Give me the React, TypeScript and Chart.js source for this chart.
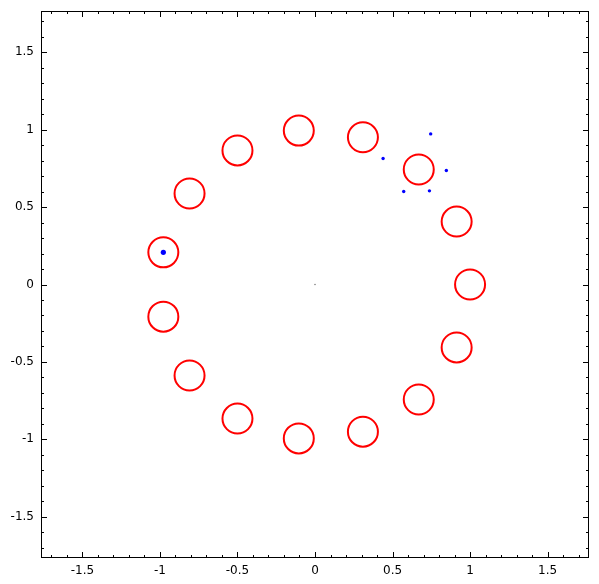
import React, { useEffect, useRef } from "react";
import { Chart, registerables } from "chart.js";
Chart.register(...registerables);

// 15 red hollow circles (x, y)
const rootX = [1, 0.9135, 0.6691, 0.309, -0.1045, -0.5, -0.809, -0.9781, -0.9781, -0.809, -0.5, -0.1045, 0.309, 0.6691, 0.9135];
const rootY = [0, 0.4067, 0.7431, 0.9511, 0.9945, 0.866, 0.5878, 0.2079, -0.2079, -0.5878, -0.866, -0.9945, -0.9511, -0.7431, -0.4067];
// small blue dots
const blueX = [0.746, 0.439, 0.847, 0.572, 0.738];
const blueY = [0.973, 0.814, 0.737, 0.601, 0.605];
// larger blue dot
const bigBlueX = [-0.978];
const bigBlueY = [0.208];
// tiny dot at origin
const originX = [0];
const originY = [0];

const tickValues = [-1.5, -1, -0.5, 0, 0.5, 1, 1.5];
const tickLabels = ["-1.5", "-1", "-0.5", "0", "0.5", "1", "1.5"];
const AXIS_MIN = -1.767;
const AXIS_MAX = 1.767;

const zip = (xs: number[], ys: number[]) => xs.map((x, i) => ({ x, y: ys[i] }));

const framePlugin = {
  id: "frameTicks",
  afterDraw(chart: any) {
    const { ctx, chartArea } = chart;
    const xs = chart.scales.x;
    const ys = chart.scales.y;
    const { left, right, top, bottom } = chartArea;
    ctx.save();
    ctx.strokeStyle = "#000";
    ctx.lineWidth = 1;
    ctx.beginPath();
    for (let i = -17; i <= 17; i++) {
      const v = i / 10;
      const len = i % 5 === 0 ? 6 : 3;
      const px = Math.round(xs.getPixelForValue(v)) + 0.5;
      const py = Math.round(ys.getPixelForValue(v)) + 0.5;
      ctx.moveTo(px, bottom);
      ctx.lineTo(px, bottom - len);
      ctx.moveTo(px, top);
      ctx.lineTo(px, top + len);
      ctx.moveTo(left, py);
      ctx.lineTo(left + len, py);
      ctx.moveTo(right, py);
      ctx.lineTo(right - len, py);
    }
    ctx.stroke();
    ctx.strokeRect(Math.round(left) + 0.5, Math.round(top) + 0.5, Math.round(right - left) - 1, Math.round(bottom - top) - 1);
    ctx.restore();
  },
};

const tickFont = { family: "DejaVu Sans", size: 12 };
const labelFor = (v: number) => {
  const idx = tickValues.findIndex((t) => Math.abs(t - v) < 1e-9);
  return idx >= 0 ? tickLabels[idx] : "";
};
const zeroPad = (s: any) => {
  s.paddingLeft = 0;
  s.paddingRight = 0;
  s.paddingTop = 0;
  s.paddingBottom = 0;
};

export default function App() {
  const ref = useRef<HTMLCanvasElement>(null);
  useEffect(() => {
    document.body.style.margin = "0";
    const chart = new Chart(ref.current as HTMLCanvasElement, {
      type: "scatter",
      data: {
        datasets: [
          {
            data: zip(rootX, rootY),
            pointRadius: 15,
            pointBorderWidth: 2,
            pointBorderColor: "#ff0000",
            pointBackgroundColor: "rgba(0,0,0,0)",
            showLine: false,
          },
          {
            data: zip(blueX, blueY),
            pointRadius: 1.7,
            pointBorderWidth: 0,
            pointBackgroundColor: "#0000ff",
            showLine: false,
          },
          {
            data: zip(bigBlueX, bigBlueY),
            pointRadius: 2.6,
            pointBorderWidth: 0,
            pointBackgroundColor: "#0000ff",
            showLine: false,
          },
          {
            data: zip(originX, originY),
            pointRadius: 0.7,
            pointBorderWidth: 0,
            pointBackgroundColor: "#666666",
            showLine: false,
          },
        ],
      },
      options: {
        responsive: false,
        animation: false,
        events: [],
        layout: { autoPadding: false, padding: { top: 11, right: 10, left: 0, bottom: 0 } },
        plugins: { legend: { display: false }, tooltip: { enabled: false } },
        scales: {
          x: {
            type: "linear",
            min: AXIS_MIN,
            max: AXIS_MAX,
            grid: { display: false, drawTicks: false },
            border: { display: false },
            ticks: {
              font: tickFont,
              color: "#000",
              padding: 6,
              autoSkip: false,
              maxRotation: 0,
              callback: (v: any) => labelFor(Number(v)),
            },
            afterBuildTicks: (s: any) => {
              s.ticks = tickValues.map((value) => ({ value }));
            },
            afterFit: (s: any) => {
              s.height = 26;
              zeroPad(s);
            },
          },
          y: {
            type: "linear",
            min: AXIS_MIN,
            max: AXIS_MAX,
            grid: { display: false, drawTicks: false },
            border: { display: false },
            ticks: {
              font: tickFont,
              color: "#000",
              padding: 7,
              autoSkip: false,
              callback: (v: any) => labelFor(Number(v)),
            },
            afterBuildTicks: (s: any) => {
              s.ticks = tickValues.map((value) => ({ value }));
            },
            afterFit: (s: any) => {
              s.width = 41;
              zeroPad(s);
            },
          },
        },
      },
      plugins: [framePlugin],
    } as any);
    return () => chart.destroy();
  }, []);
  return (
    <div style={{ position: "fixed", left: 0, top: 0, width: 599, height: 584, background: "#fff" }}>
      <canvas ref={ref} width={599} height={584} style={{ display: "block" }} />
    </div>
  );
}
